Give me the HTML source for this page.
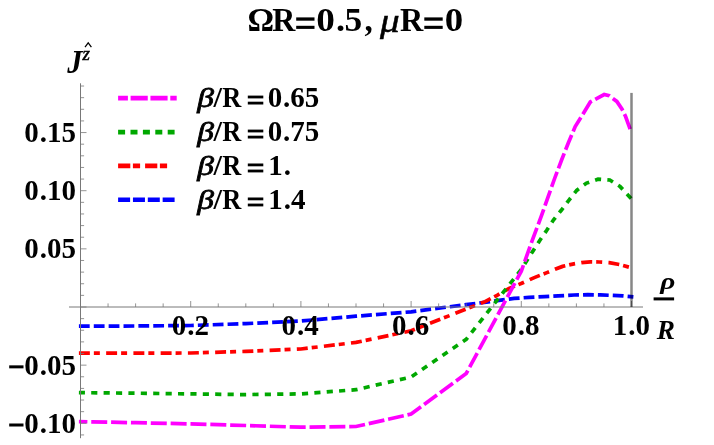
<!DOCTYPE html>
<html><head><meta charset="utf-8"><title>plot</title>
<style>
html,body{margin:0;padding:0;background:#fff;}
body{width:714px;height:445px;overflow:hidden;font-family:"Liberation Serif",serif;}
svg{display:block;will-change:transform}
</style></head><body>
<svg width="714" height="445" viewBox="0 0 714 445">
<rect width="714" height="445" fill="#fff"/>
<g fill="none" stroke-width="3.7" stroke-linejoin="miter">
<path d="M78.9,326.2 L135.6,326.0 L190.7,325.5 L245.8,323.6 L300.9,321.0 L356.0,316.2 L411.1,311.8 L466.2,304.6 L486.4,302.2 L497.1,300.6 L514.1,298.4 L529.2,297.4 L544.4,296.6 L558.2,295.9 L574.0,295.0 L587.8,294.7 L600.4,294.9 L613.0,295.4 L623.1,295.9 L633.4,296.8" stroke="#0000ff" stroke-dasharray="10.8 4.07"/>
<path d="M78.9,353.1 L135.6,353.1 L190.7,353.0 L245.8,351.4 L300.9,349.0 L356.0,342.4 L411.1,330.8 L466.2,309.0 L485.1,301.6 L497.1,295.3 L509.1,288.4 L521.7,283.3 L534.3,277.6 L546.9,272.6 L555.0,269.2 L562.6,266.4 L572.7,264.1 L581.5,262.6 L590.3,261.8 L599.2,262.0 L609.2,262.6 L619.3,264.5 L629.4,267.3 L631.5,268.0" stroke="#ff0000" stroke-dasharray="10.95 4.0 6.0 6.3"/>
<path d="M78.9,392.6 L135.6,393.2 L190.7,393.9 L245.8,394.6 L300.9,393.9 L356.0,389.7 L411.1,377.0 L466.2,339.3 L521.3,269.5 L532.5,251.7 L539.6,240.7 L546.6,230.5 L553.6,219.8 L561.5,210.0 L568.6,200.6 L576.7,190.4 L586.6,183.1 L598.0,179.2 L609.8,180.0 L620.0,186.4 L628.3,195.4 L631.5,199.0" stroke="#00a800" stroke-dasharray="6.15 6.25" stroke-dashoffset="0.1"/>
<path d="M78.9,421.6 L135.6,422.7 L190.7,423.9 L245.8,425.5 L300.9,427.2 L356.0,426.5 L411.1,414.1 L466.2,373.5 L521.3,271.2 L531.0,243.8 L541.3,216.2 L548.1,196.8 L554.8,178.0 L561.6,160.0 L568.3,143.0 L575.2,126.6 L582.8,114.3 L590.3,102.0 L604.2,94.5 L609.2,95.7 L616.8,101.4 L621.9,109.0 L625.6,116.5 L629.7,127.9 L631.0,131.6" stroke="#ff00ff" stroke-dasharray="16 3.85" stroke-dashoffset="7.5"/>
</g>
<g stroke="#787878" fill="none">
<line x1="69" y1="307.0" x2="643" y2="307.0" stroke-width="1"/>
<line x1="80.5" y1="83.3" x2="80.5" y2="438.2" stroke-width="1"/>
</g>
<g stroke="#787878" fill="none" stroke-width="0.8">
<line x1="80.50" y1="307.0" x2="80.50" y2="301.0"/>
<line x1="108.05" y1="307.0" x2="108.05" y2="303.4"/>
<line x1="135.60" y1="307.0" x2="135.60" y2="303.4"/>
<line x1="163.15" y1="307.0" x2="163.15" y2="303.4"/>
<line x1="190.70" y1="307.0" x2="190.70" y2="301.0"/>
<line x1="218.25" y1="307.0" x2="218.25" y2="303.4"/>
<line x1="245.80" y1="307.0" x2="245.80" y2="303.4"/>
<line x1="273.35" y1="307.0" x2="273.35" y2="303.4"/>
<line x1="300.90" y1="307.0" x2="300.90" y2="301.0"/>
<line x1="328.45" y1="307.0" x2="328.45" y2="303.4"/>
<line x1="356.00" y1="307.0" x2="356.00" y2="303.4"/>
<line x1="383.55" y1="307.0" x2="383.55" y2="303.4"/>
<line x1="411.10" y1="307.0" x2="411.10" y2="301.0"/>
<line x1="438.65" y1="307.0" x2="438.65" y2="303.4"/>
<line x1="466.20" y1="307.0" x2="466.20" y2="303.4"/>
<line x1="493.75" y1="307.0" x2="493.75" y2="303.4"/>
<line x1="521.30" y1="307.0" x2="521.30" y2="301.0"/>
<line x1="548.85" y1="307.0" x2="548.85" y2="303.4"/>
<line x1="576.40" y1="307.0" x2="576.40" y2="303.4"/>
<line x1="603.95" y1="307.0" x2="603.95" y2="303.4"/>
<line x1="631.50" y1="307.0" x2="631.50" y2="301.0"/>
<line x1="80.5" y1="434.93" x2="84.1" y2="434.93"/>
<line x1="80.5" y1="423.30" x2="86.5" y2="423.30"/>
<line x1="80.5" y1="411.67" x2="84.1" y2="411.67"/>
<line x1="80.5" y1="400.04" x2="84.1" y2="400.04"/>
<line x1="80.5" y1="388.41" x2="84.1" y2="388.41"/>
<line x1="80.5" y1="376.78" x2="84.1" y2="376.78"/>
<line x1="80.5" y1="365.15" x2="86.5" y2="365.15"/>
<line x1="80.5" y1="353.52" x2="84.1" y2="353.52"/>
<line x1="80.5" y1="341.89" x2="84.1" y2="341.89"/>
<line x1="80.5" y1="330.26" x2="84.1" y2="330.26"/>
<line x1="80.5" y1="318.63" x2="84.1" y2="318.63"/>
<line x1="80.5" y1="307.00" x2="86.5" y2="307.00"/>
<line x1="80.5" y1="295.37" x2="84.1" y2="295.37"/>
<line x1="80.5" y1="283.74" x2="84.1" y2="283.74"/>
<line x1="80.5" y1="272.11" x2="84.1" y2="272.11"/>
<line x1="80.5" y1="260.48" x2="84.1" y2="260.48"/>
<line x1="80.5" y1="248.85" x2="86.5" y2="248.85"/>
<line x1="80.5" y1="237.22" x2="84.1" y2="237.22"/>
<line x1="80.5" y1="225.59" x2="84.1" y2="225.59"/>
<line x1="80.5" y1="213.96" x2="84.1" y2="213.96"/>
<line x1="80.5" y1="202.33" x2="84.1" y2="202.33"/>
<line x1="80.5" y1="190.70" x2="86.5" y2="190.70"/>
<line x1="80.5" y1="179.07" x2="84.1" y2="179.07"/>
<line x1="80.5" y1="167.44" x2="84.1" y2="167.44"/>
<line x1="80.5" y1="155.81" x2="84.1" y2="155.81"/>
<line x1="80.5" y1="144.18" x2="84.1" y2="144.18"/>
<line x1="80.5" y1="132.55" x2="86.5" y2="132.55"/>
<line x1="80.5" y1="120.92" x2="84.1" y2="120.92"/>
<line x1="80.5" y1="109.29" x2="84.1" y2="109.29"/>
<line x1="80.5" y1="97.66" x2="84.1" y2="97.66"/>
<line x1="80.5" y1="86.03" x2="84.1" y2="86.03"/>
</g>
<line x1="631.5" y1="92.9" x2="631.5" y2="307.0" stroke="#000" stroke-opacity="0.47" stroke-width="2.5"/>
<g fill="none" stroke-width="4.6">
<path d="M118.1,98.1 H176.7" stroke="#ff00ff" stroke-dasharray="17.15 2.7" stroke-dashoffset="7.35"/>
<path d="M118.1,132.1 H174.6" stroke="#00a800" stroke-dasharray="7.0 5.4"/>
<path d="M118.1,165.9 H167.2" stroke="#ff0000" stroke-dasharray="12.2 2.6 7.2 5.0"/>
<path d="M118.1,199.8 H174.6" stroke="#0000ff" stroke-dasharray="12.0 2.85"/>
</g>
<g font-family="Liberation Serif, serif" font-weight="bold" fill="#000">
<text transform="translate(247.49,31.30) scale(0.9763,1)" font-size="34">Ω</text>
<text transform="translate(272.15,31.30) scale(0.9394,1)" font-size="34">R</text>
<rect x="296.20" y="17.40" width="18.30" height="3.30"/>
<rect x="296.20" y="25.80" width="18.30" height="3.10"/>
<text transform="translate(316.28,31.30) scale(1.0964,1)" font-size="34">0</text>
<text transform="translate(336.00,31.30) scale(1.0704,1)" font-size="34">.</text>
<text transform="translate(344.58,31.30) scale(1.0421,1)" font-size="34">5</text>
<text transform="translate(364.56,31.30) scale(0.9768,1)" font-size="34">,</text>
<text transform="translate(380.04,31.90) scale(1.1521,1)" font-size="34" font-style="italic" font-weight="normal" stroke="#000" stroke-width="0.5">μ</text>
<text transform="translate(400.05,31.30) scale(0.9476,1)" font-size="34">R</text>
<rect x="424.30" y="17.40" width="18.40" height="3.30"/>
<rect x="424.30" y="25.80" width="18.40" height="3.10"/>
<text transform="translate(444.70,31.30) scale(1.0826,1)" font-size="34">0</text>
<text transform="translate(24.31,142.05) scale(1.0000,1)" font-size="29">0</text>
<text transform="translate(39.81,142.05) scale(1.0000,1)" font-size="29">.</text>
<text transform="translate(47.06,142.05) scale(1.0000,1)" font-size="29">1</text>
<text transform="translate(61.56,142.05) scale(1.0000,1)" font-size="29">5</text>
<text transform="translate(24.35,200.20) scale(1.0000,1)" font-size="29">0</text>
<text transform="translate(39.85,200.20) scale(1.0000,1)" font-size="29">.</text>
<text transform="translate(47.10,200.20) scale(1.0000,1)" font-size="29">1</text>
<text transform="translate(61.60,200.20) scale(1.0000,1)" font-size="29">0</text>
<text transform="translate(24.31,258.35) scale(1.0000,1)" font-size="29">0</text>
<text transform="translate(39.81,258.35) scale(1.0000,1)" font-size="29">.</text>
<text transform="translate(47.06,258.35) scale(1.0000,1)" font-size="29">0</text>
<text transform="translate(61.56,258.35) scale(1.0000,1)" font-size="29">5</text>
<text transform="translate(24.31,374.65) scale(1.0000,1)" font-size="29">0</text>
<text transform="translate(39.81,374.65) scale(1.0000,1)" font-size="29">.</text>
<text transform="translate(47.06,374.65) scale(1.0000,1)" font-size="29">0</text>
<text transform="translate(61.56,374.65) scale(1.0000,1)" font-size="29">5</text>
<rect x="9.2" y="365.35" width="14.3" height="3.0"/>
<text transform="translate(24.35,432.80) scale(1.0000,1)" font-size="29">0</text>
<text transform="translate(39.85,432.80) scale(1.0000,1)" font-size="29">.</text>
<text transform="translate(47.10,432.80) scale(1.0000,1)" font-size="29">1</text>
<text transform="translate(61.60,432.80) scale(1.0000,1)" font-size="29">0</text>
<rect x="9.2" y="423.50" width="14.3" height="3.0"/>
<text transform="translate(171.75,334.90) scale(1.0000,1)" font-size="29">0</text>
<text transform="translate(187.25,334.90) scale(1.0000,1)" font-size="29">.</text>
<text transform="translate(194.50,334.90) scale(1.0000,1)" font-size="29">2</text>
<text transform="translate(281.59,334.90) scale(1.0000,1)" font-size="29">0</text>
<text transform="translate(297.09,334.90) scale(1.0000,1)" font-size="29">.</text>
<text transform="translate(304.34,334.90) scale(1.0000,1)" font-size="29">4</text>
<text transform="translate(391.95,334.90) scale(1.0000,1)" font-size="29">0</text>
<text transform="translate(407.45,334.90) scale(1.0000,1)" font-size="29">.</text>
<text transform="translate(414.70,334.90) scale(1.0000,1)" font-size="29">6</text>
<text transform="translate(502.20,334.90) scale(1.0000,1)" font-size="29">0</text>
<text transform="translate(517.70,334.90) scale(1.0000,1)" font-size="29">.</text>
<text transform="translate(524.95,334.90) scale(1.0000,1)" font-size="29">8</text>
<text transform="translate(612.67,334.90) scale(1.0000,1)" font-size="29">1</text>
<text transform="translate(628.17,334.90) scale(1.0000,1)" font-size="29">.</text>
<text transform="translate(635.42,334.90) scale(1.0000,1)" font-size="29">0</text>
<text transform="translate(197.34,107.10) scale(1.1568,0.94)" font-size="29" font-style="italic" font-weight="normal" stroke="#000" stroke-width="0.8">β</text>
<text transform="translate(213.50,107.40) scale(1.0535,1)" font-size="29">/</text>
<text transform="translate(222.15,107.40) scale(0.9081,1)" font-size="29">R</text>
<rect x="247.80" y="95.60" width="15.50" height="2.80"/>
<rect x="247.80" y="101.70" width="15.50" height="2.80"/>
<text transform="translate(267.80,107.40) scale(1.0000,1)" font-size="29">0</text>
<text transform="translate(283.00,107.40) scale(1.0000,1)" font-size="29">.</text>
<text transform="translate(290.25,107.40) scale(1.0000,1)" font-size="29">6</text>
<text transform="translate(304.75,107.40) scale(1.0000,1)" font-size="29">5</text>
<text transform="translate(197.34,141.10) scale(1.1568,0.94)" font-size="29" font-style="italic" font-weight="normal" stroke="#000" stroke-width="0.8">β</text>
<text transform="translate(213.50,141.40) scale(1.0535,1)" font-size="29">/</text>
<text transform="translate(222.15,141.40) scale(0.9081,1)" font-size="29">R</text>
<rect x="247.80" y="129.60" width="15.50" height="2.80"/>
<rect x="247.80" y="135.70" width="15.50" height="2.80"/>
<text transform="translate(267.80,141.40) scale(1.0000,1)" font-size="29">0</text>
<text transform="translate(283.00,141.40) scale(1.0000,1)" font-size="29">.</text>
<text transform="translate(290.25,141.40) scale(1.0000,1)" font-size="29">7</text>
<text transform="translate(304.75,141.40) scale(1.0000,1)" font-size="29">5</text>
<text transform="translate(197.34,175.00) scale(1.1568,0.94)" font-size="29" font-style="italic" font-weight="normal" stroke="#000" stroke-width="0.8">β</text>
<text transform="translate(213.50,175.30) scale(1.0535,1)" font-size="29">/</text>
<text transform="translate(222.15,175.30) scale(0.9081,1)" font-size="29">R</text>
<rect x="247.80" y="163.50" width="15.50" height="2.80"/>
<rect x="247.80" y="169.60" width="15.50" height="2.80"/>
<text transform="translate(268.28,175.30) scale(1.0000,1)" font-size="29">1</text>
<text transform="translate(283.68,175.30) scale(1.0000,1)" font-size="29">.</text>
<text transform="translate(197.34,209.00) scale(1.1568,0.94)" font-size="29" font-style="italic" font-weight="normal" stroke="#000" stroke-width="0.8">β</text>
<text transform="translate(213.50,209.30) scale(1.0535,1)" font-size="29">/</text>
<text transform="translate(222.15,209.30) scale(0.9081,1)" font-size="29">R</text>
<rect x="247.80" y="197.50" width="15.50" height="2.80"/>
<rect x="247.80" y="203.60" width="15.50" height="2.80"/>
<text transform="translate(268.28,209.30) scale(1.0000,1)" font-size="29">1</text>
<text transform="translate(283.68,209.30) scale(1.0000,1)" font-size="29">.</text>
<text transform="translate(290.93,209.30) scale(1.0000,1)" font-size="29">4</text>
<text transform="translate(67.26,72.90) scale(0.9177,1)" font-size="33" font-style="italic">J</text>
<text transform="translate(82.41,59.80) scale(1.0330,1)" font-size="18.5" font-style="italic" font-weight="normal" stroke="#000" stroke-width="0.5">z</text>
<path d="M85.0,47.2 L88.2,42.9 L91.4,47.2" fill="none" stroke="#000" stroke-width="1.25" stroke-linejoin="miter"/>
<text transform="translate(660.33,289.30) scale(1.2190,1)" font-size="24" font-style="italic">ρ</text>
<rect x="653.6" y="297.4" width="20.5" height="3.0" fill="#000"/>
<text transform="translate(656.64,338.50) scale(1.0106,1)" font-size="27" font-style="italic">R</text>
</g>
</svg>
</body></html>
